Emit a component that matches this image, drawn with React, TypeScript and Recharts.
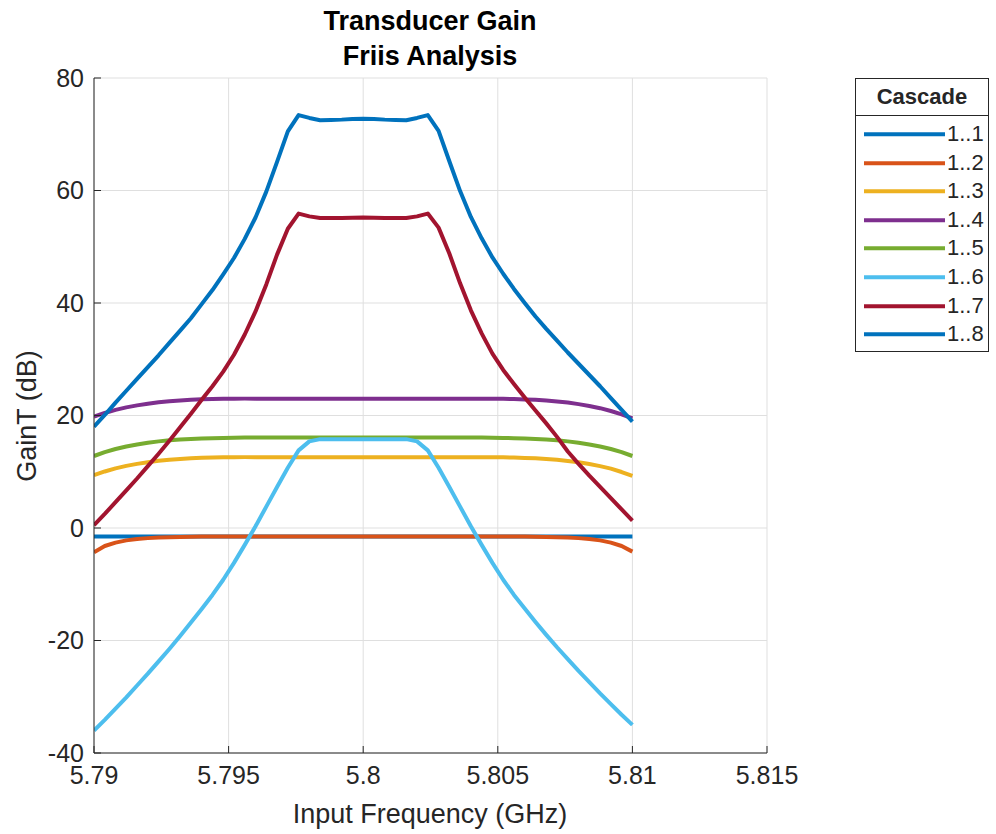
import React from 'react';
import { LineChart, Line, XAxis, YAxis, CartesianGrid } from 'recharts';

const freq = [
  5.7900, 5.7904, 5.7908, 5.7912, 5.7916, 5.7920, 5.7924, 5.7928, 5.7932, 5.7936,
  5.7940, 5.7944, 5.7948, 5.7952, 5.7956, 5.7960, 5.7964, 5.7968, 5.7972, 5.7976,
  5.7980, 5.7984, 5.7988, 5.7992, 5.7996, 5.8000, 5.8004, 5.8008, 5.8012, 5.8016,
  5.8020, 5.8024, 5.8028, 5.8032, 5.8036, 5.8040, 5.8044, 5.8048, 5.8052, 5.8056,
  5.8060, 5.8064, 5.8068, 5.8072, 5.8076, 5.8080, 5.8084, 5.8088, 5.8092, 5.8096,
  5.8100,
];

const s11 = [
  -1.5, -1.5, -1.5, -1.5, -1.5, -1.5, -1.5, -1.5, -1.5, -1.5,
  -1.5, -1.5, -1.5, -1.5, -1.5, -1.5, -1.5, -1.5, -1.5, -1.5,
  -1.5, -1.5, -1.5, -1.5, -1.5, -1.5, -1.5, -1.5, -1.5, -1.5,
  -1.5, -1.5, -1.5, -1.5, -1.5, -1.5, -1.5, -1.5, -1.5, -1.5,
  -1.5, -1.5, -1.5, -1.5, -1.5, -1.5, -1.5, -1.5, -1.5, -1.5,
  -1.5,
];

const s12 = [
  -4.3, -3.2, -2.6, -2.2, -1.95, -1.8, -1.7, -1.63, -1.58, -1.55,
  -1.53, -1.52, -1.51, -1.5, -1.5, -1.5, -1.5, -1.5, -1.5, -1.5,
  -1.5, -1.5, -1.5, -1.5, -1.5, -1.5, -1.5, -1.5, -1.5, -1.5,
  -1.5, -1.5, -1.5, -1.5, -1.5, -1.5, -1.5, -1.5, -1.51, -1.52,
  -1.53, -1.55, -1.58, -1.63, -1.7, -1.8, -1.95, -2.2, -2.6, -3.2,
  -4.2,
];

const s13 = [
  9.4, 10.05, 10.6, 11.05, 11.4, 11.7, 11.95, 12.14, 12.28, 12.39,
  12.47, 12.52, 12.56, 12.58, 12.6, 12.6, 12.6, 12.6, 12.6, 12.6,
  12.6, 12.6, 12.6, 12.6, 12.6, 12.6, 12.6, 12.6, 12.6, 12.6,
  12.6, 12.6, 12.6, 12.6, 12.6, 12.6, 12.6, 12.58, 12.56, 12.52,
  12.46, 12.38, 12.27, 12.13, 11.93, 11.68, 11.37, 11.0, 10.55, 9.95,
  9.25,
];

const s14 = [
  19.8, 20.45, 21.0, 21.45, 21.8, 22.1, 22.35, 22.54, 22.68, 22.79,
  22.87, 22.92, 22.96, 22.98, 23.0, 23.0, 23.0, 23.0, 23.0, 23.0,
  23.0, 23.0, 23.0, 23.0, 23.0, 23.0, 23.0, 23.0, 23.0, 23.0,
  23.0, 23.0, 23.0, 23.0, 23.0, 23.0, 23.0, 22.98, 22.96, 22.92,
  22.86, 22.78, 22.66, 22.5, 22.3, 22.02, 21.7, 21.3, 20.8, 20.2,
  19.5,
];

const s15 = [
  12.8, 13.5, 14.05, 14.5, 14.85, 15.15, 15.4, 15.59, 15.73, 15.84,
  15.92, 15.97, 16.01, 16.04, 16.08, 16.1, 16.1, 16.1, 16.1, 16.1,
  16.1, 16.1, 16.1, 16.1, 16.1, 16.1, 16.1, 16.1, 16.1, 16.1,
  16.1, 16.1, 16.1, 16.1, 16.1, 16.1, 16.08, 16.04, 16.01, 15.97,
  15.92, 15.84, 15.73, 15.59, 15.4, 15.15, 14.85, 14.5, 14.05, 13.5,
  12.8,
];

const s16 = [
  -36.0, -34.1, -32.1, -30.1, -28.0, -25.9, -23.7, -21.5, -19.2, -16.8,
  -14.4, -11.9, -9.2, -6.2, -3.0, 0.3, 3.8, 7.3, 10.7, 13.8,
  15.4, 15.8, 15.8, 15.8, 15.8, 15.8, 15.8, 15.8, 15.8, 15.8,
  15.4, 13.8, 10.7, 7.3, 3.8, 0.3, -3.0, -6.2, -9.2, -11.9,
  -14.3, -16.7, -19.0, -21.2, -23.3, -25.4, -27.4, -29.4, -31.3, -33.2,
  -35.0,
];

const s17 = [
  0.5, 2.5, 4.6, 6.7, 8.8, 11.0, 13.2, 15.5, 17.9, 20.3,
  22.8, 25.2, 27.8, 30.8, 34.4, 38.5, 43.3, 48.6, 53.2, 55.9,
  55.4, 55.1, 55.1, 55.1, 55.15, 55.2, 55.15, 55.1, 55.1, 55.1,
  55.4, 55.9, 53.4, 48.8, 43.5, 38.7, 34.6, 31.0, 28.1, 25.6,
  23.2, 20.9, 18.6, 16.2, 13.6, 11.4, 9.3, 7.3, 5.3, 3.3,
  1.3,
];

const s18 = [
  18.0, 20.1, 22.3, 24.4, 26.5, 28.6, 30.7, 32.9, 35.1, 37.3,
  39.8, 42.3, 45.1, 48.0, 51.4, 55.2, 59.8, 65.1, 70.5, 73.4,
  72.9, 72.5, 72.55, 72.6, 72.7, 72.75, 72.7, 72.6, 72.55, 72.5,
  72.9, 73.4, 70.6, 65.2, 59.9, 55.3, 51.5, 48.1, 45.2, 42.5,
  40.0, 37.6, 35.4, 33.3, 31.2, 29.2, 27.2, 25.2, 23.1, 21.0,
  18.9,
];

const seriesNames = ['1..1', '1..2', '1..3', '1..4', '1..5', '1..6', '1..7', '1..8'];
const seriesValues = [s11, s12, s13, s14, s15, s16, s17, s18];
const seriesColors = ['#0072BD', '#D95319', '#EDB120', '#7E2F8E', '#77AC30', '#4DBEEE', '#A2142F', '#0072BD'];

const xTicks = [5.79, 5.795, 5.8, 5.805, 5.81, 5.815];
const yTicks = [-40, -20, 0, 20, 40, 60, 80];

const rows = freq.map((f, i) => {
  const r: Record<string, number> = { f };
  seriesValues.forEach((s, k) => {
    r['s' + k] = s[i];
  });
  return r;
});

const FONT = '"Liberation Sans", Arial, Helvetica, sans-serif';
const TXT = '#262626';

export default function App() {
  return (
    <div style={{ position: 'absolute', left: 0, top: 0, width: 996, height: 834, background: '#fff', fontFamily: FONT }}>
      <LineChart width={996} height={834} data={rows} margin={{ top: 78, right: 229, bottom: 0, left: 0 }}>
        <CartesianGrid stroke="#dfdfdf" strokeWidth={1} />
        <XAxis
          dataKey="f"
          type="number"
          domain={[5.79, 5.815]}
          ticks={xTicks}
          allowDataOverflow
          height={81}
          stroke={TXT}
          tickSize={-7}
          tickMargin={20}
          tick={{ fontSize: 25, fill: TXT, fontFamily: FONT }}
          tickFormatter={(v: number) => String(v)}
        />
        <YAxis
          type="number"
          domain={[-40, 80]}
          ticks={yTicks}
          allowDataOverflow
          width={94}
          stroke={TXT}
          tickSize={-7}
          tickMargin={17}
          tick={{ fontSize: 25, fill: TXT, fontFamily: FONT }}
        />
        {seriesValues.map((_, k) => (
          <Line
            key={k}
            type="linear"
            dataKey={'s' + k}
            name={seriesNames[k]}
            stroke={seriesColors[k]}
            strokeWidth={4}
            strokeLinejoin="round"
            dot={false}
            activeDot={false}
            isAnimationActive={false}
          />
        ))}
      </LineChart>

      <div style={{ position: 'absolute', left: 180, width: 500, top: 4, textAlign: 'center', fontWeight: 'bold', fontSize: 27, lineHeight: '35px', color: '#000' }}>
        <div>Transducer Gain</div>
        <div>Friis Analysis</div>
      </div>

      <div style={{ position: 'absolute', left: 180, width: 500, top: 799, textAlign: 'center', fontSize: 27, lineHeight: '30px', color: TXT }}>
        Input Frequency (GHz)
      </div>

      <div style={{ position: 'absolute', left: 27 - 100, top: 416 - 15, width: 200, height: 30, lineHeight: '30px', textAlign: 'center', fontSize: 27, color: TXT, transform: 'rotate(-90deg)' }}>
        GainT (dB)
      </div>

      <div style={{ position: 'absolute', left: 855, top: 78, width: 134, height: 274, border: '1px solid #262626', boxSizing: 'border-box', background: '#fff' }}>
        <div style={{ height: 36, borderBottom: '1px solid #262626', textAlign: 'center', fontWeight: 'bold', fontSize: 22, lineHeight: '36px', color: TXT }}>
          Cascade
        </div>
        {seriesNames.map((n, k) => (
          <div key={n} style={{ position: 'absolute', left: 0, top: 41 + k * 28.6, height: 28.6, width: 133 }}>
            <svg width={92} height={28} style={{ position: 'absolute', left: 0, top: 0 }}>
              <line x1={8} x2={89} y1={14.3} y2={14.3} stroke={seriesColors[k]} strokeWidth={4} />
            </svg>
            <span style={{ position: 'absolute', left: 91, top: 0, lineHeight: '28.6px', fontSize: 22, color: TXT }}>{n}</span>
          </div>
        ))}
      </div>
    </div>
  );
}
